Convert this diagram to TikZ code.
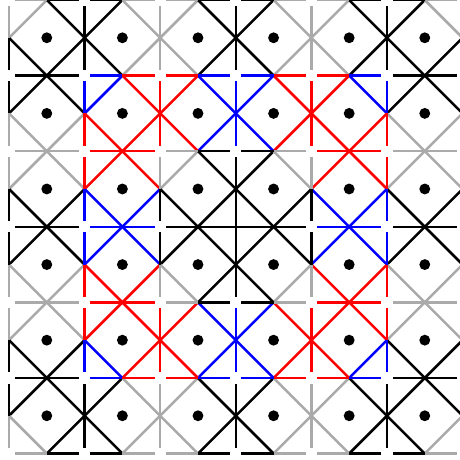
\documentclass[tikz,border=0pt]{standalone}
\usepackage{xcolor}
\definecolor{cg}{RGB}{170,170,170}
\definecolor{ck}{RGB}{0,0,0}
\definecolor{cr}{RGB}{255,0,0}
\definecolor{cb}{RGB}{0,0,255}
\newcommand{\egap}{0.075}
\tikzset{
  seg/.style={line width=0.95pt},
  spot/.style={fill=black}
}

\begin{document}
\begin{tikzpicture}[x=1cm, y=1cm]
    \clip (-0.119,-0.072) rectangle (5.966,6.0);
    % diamond sides, row by row from the top (NW, NE, SE, SW per cell)
    \foreach \rw/\lst in {
      0/{cg,ck,ck,ck, ck,cg,cg,ck, cg,ck,ck,cg, ck,cg,cg,ck, cg,ck,ck,cg, ck,cg,ck,ck},
      1/{ck,ck,cg,cg, cb,cr,cr,cr, cr,cb,cb,cr, cb,cr,cr,cb, cr,cb,cr,cr, ck,ck,cg,cg},
      2/{cg,cg,ck,ck, cr,cr,cb,cb, cg,ck,ck,ck, ck,cg,ck,ck, cr,cr,cb,cb, cg,cg,ck,ck},
      3/{ck,ck,cg,cg, cb,cb,cr,cr, ck,ck,ck,cg, ck,ck,cg,ck, cb,cb,cr,cr, ck,ck,cg,cg},
      4/{cg,cg,ck,ck, cr,cr,cr,cb, cr,cb,cb,cr, cb,cr,cr,cb, cr,cr,cb,cr, cg,cg,ck,ck},
      5/{ck,ck,ck,cg, ck,cg,cg,ck, cg,ck,ck,cg, ck,cg,cg,ck, cg,ck,ck,cg, ck,ck,cg,ck}}
      \foreach \col [count=\n from 0] in \lst {
        \pgfmathtruncatemacro{\ci}{\n/4}
        \pgfmathsetmacro{\aa}{180-90*mod(\n,4)}
        \draw[seg, draw=\col, shift={(\ci+0.5,5.5-\rw)}] (\aa:0.5) -- (\aa-90:0.5);
      }
    % grid lines in half edges, gap at each corner (rows and columns alike)
    \foreach \k/\lst in {
      0/{cg,ck,ck,cg,cg,ck,ck,cg,cg,ck,ck,cg},
      1/{ck,ck,cb,cr,cr,cb,cb,cr,cr,cb,ck,ck},
      2/{cg,cg,cr,cr,cg,ck,ck,cg,cr,cr,cg,cg},
      3/{ck,ck,cb,cb,ck,ck,ck,ck,cb,cb,ck,ck},
      4/{cg,cg,cr,cr,cg,ck,ck,cg,cr,cr,cg,cg},
      5/{ck,ck,cb,cr,cr,cb,cb,cr,cr,cb,ck,ck},
      6/{cg,ck,ck,cg,cg,ck,ck,cg,cg,ck,ck,cg}}
      \foreach \col [count=\n from 0] in \lst {
        \pgfmathsetmacro{\pa}{int(\n/2)+0.5}
        \pgfmathsetmacro{\pb}{int(\n/2)+\egap+mod(\n,2)*(1-2*\egap)}
        \draw[seg, draw=\col] (\pa,6-\k) -- (\pb,6-\k);
        \draw[seg, draw=\col] (\k,6-\pa) -- (\k,6-\pb);
      }
    % no gap in the middle
    \draw[seg, draw=ck] (2.9,3) -- (3.1,3);
    \draw[seg, draw=ck] (3,2.9) -- (3,3.1);
    % dots
    \foreach \i in {0,...,5}
      \foreach \j in {0,...,5}
        \fill[spot] (\i+0.5,\j+0.5) circle (0.072);
\end{tikzpicture}
\end{document}
